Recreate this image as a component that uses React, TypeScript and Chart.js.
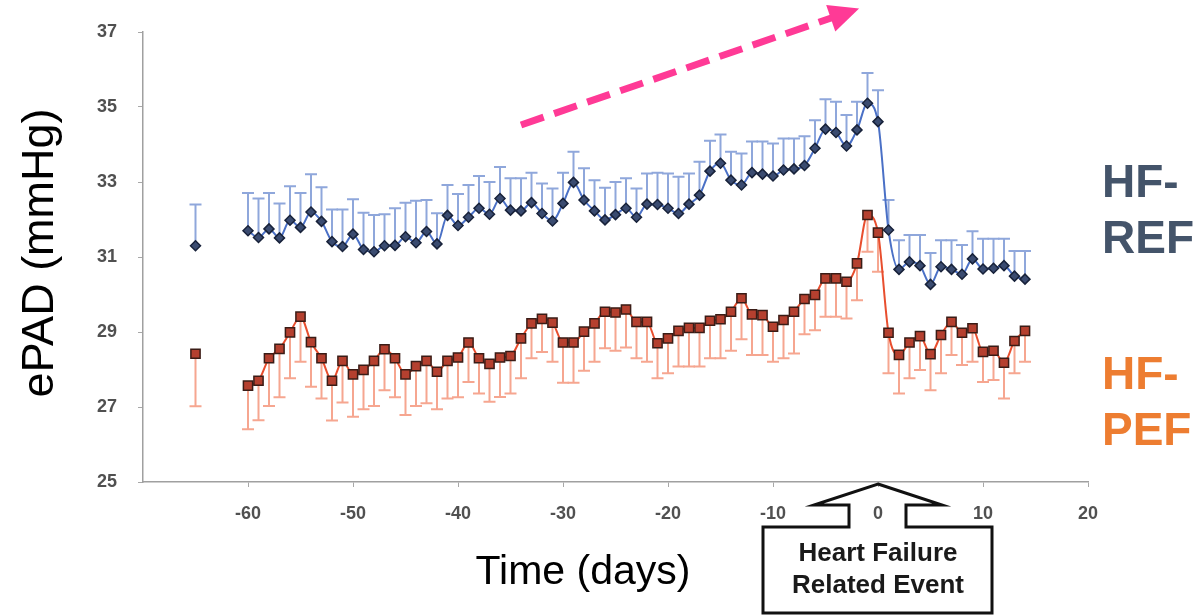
import React, { useEffect, useRef } from 'react';
import { Chart, registerables } from 'chart.js';

Chart.register(...registerables);

// ---- Data ----
const days = [
  -60, -59, -58, -57, -56, -55, -54, -53, -52, -51, -50, -49, -48, -47, -46, -45, -44, -43, -42, -41,
  -40, -39, -38, -37, -36, -35, -34, -33, -32, -31, -30, -29, -28, -27, -26, -25, -24, -23, -22, -21,
  -20, -19, -18, -17, -16, -15, -14, -13, -12, -11, -10, -9, -8, -7, -6, -5, -4, -3, -2, -1,
  0, 1, 2, 3, 4, 5, 6, 7, 8, 9, 10, 11, 12, 13, 14,
];

const refMean = [
  31.70, 31.52, 31.75, 31.51, 31.98, 31.79, 32.20, 31.95, 31.41, 31.28, 31.61, 31.20, 31.14, 31.30, 31.31, 31.54, 31.38, 31.68, 31.35, 32.11,
  31.84, 32.06, 32.30, 32.14, 32.56, 32.25, 32.23, 32.45, 32.16, 31.96, 32.43, 32.99, 32.52, 32.23, 31.99, 32.13, 32.30, 32.06, 32.41, 32.40,
  32.30, 32.16, 32.41, 32.65, 33.29, 33.50, 33.05, 32.92, 33.25, 33.21, 33.16, 33.32, 33.35, 33.44, 33.90, 34.41, 34.32, 33.96, 34.39, 35.10,
  34.61, 31.72, 30.67, 30.87, 30.77, 30.27, 30.74, 30.67, 30.54, 30.95, 30.68, 30.70, 30.77, 30.49, 30.41,
];

const refHigh = [
  32.71, 32.56, 32.71, 32.43, 32.89, 32.71, 33.21, 32.86, 32.27, 32.27, 32.54, 32.18, 32.12, 32.14, 32.30, 32.45, 32.50, 32.52, 32.17, 32.92,
  32.68, 32.92, 33.16, 33.00, 33.40, 33.10, 33.10, 33.25, 32.96, 32.83, 33.25, 33.81, 33.37, 33.05, 32.85, 33.00, 33.10, 32.83, 33.23, 33.25,
  33.23, 33.14, 33.23, 33.54, 34.10, 34.27, 33.81, 33.76, 34.08, 34.08, 34.03, 34.16, 34.16, 34.22, 34.65, 35.21, 35.14, 34.79, 35.14, 35.91,
  35.45, 32.52, 31.45, 31.59, 31.59, 31.11, 31.45, 31.45, 31.32, 31.69, 31.49, 31.49, 31.49, 31.16, 31.16,
];

const pefMean = [
  27.57, 27.70, 28.30, 28.55, 28.99, 29.41, 28.73, 28.30, 27.70, 28.23, 27.87, 27.99, 28.23, 28.54, 28.30, 27.87, 28.09, 28.23, 27.94, 28.23,
  28.32, 28.72, 28.30, 28.15, 28.32, 28.36, 28.83, 29.23, 29.35, 29.25, 28.72, 28.72, 29.01, 29.23, 29.54, 29.52, 29.60, 29.27, 29.27, 28.70,
  28.83, 29.03, 29.11, 29.11, 29.30, 29.34, 29.54, 29.90, 29.47, 29.45, 29.14, 29.32, 29.54, 29.88, 29.99, 30.43, 30.43, 30.34, 30.83, 32.12,
  31.65, 28.98, 28.39, 28.72, 28.89, 28.41, 28.92, 29.27, 28.98, 29.10, 28.47, 28.50, 28.18, 28.76, 29.03,
];

const pefLow = [
  26.41, 26.65, 27.03, 27.26, 27.77, 28.21, 27.54, 27.23, 26.64, 27.12, 26.74, 26.94, 27.03, 27.45, 27.26, 26.79, 27.03, 27.10, 26.94, 27.23,
  27.26, 27.67, 27.36, 27.14, 27.27, 27.36, 27.77, 28.30, 28.47, 28.21, 27.65, 27.65, 27.97, 28.21, 28.57, 28.50, 28.59, 28.30, 28.21, 27.77,
  27.90, 28.08, 28.08, 28.08, 28.30, 28.30, 28.50, 28.81, 28.39, 28.39, 28.21, 28.30, 28.43, 28.94, 29.05, 29.41, 29.41, 29.36, 29.85, 31.14,
  30.61, 27.90, 27.36, 27.77, 27.99, 27.45, 27.90, 28.39, 28.12, 28.21, 27.67, 27.72, 27.23, 27.90, 28.21,
];

const baselineDay = [-65];
const refBaseMean = [31.3];
const refBaseHigh = [32.4];
const pefBaseMean = [28.42];
const pefBaseLow = [27.02];

const xTickValues = [-60, -50, -40, -30, -20, -10, 0, 10, 20];
const yTickValues = [25, 27, 29, 31, 33, 35, 37];

const xTitle = 'Time (days)';
const yTitle = 'ePAD (mmHg)';
const refLabel = ['HF-', 'REF'];
const pefLabel = ['HF-', 'PEF'];
const eventLabel = ['Heart Failure', 'Related Event'];
const eventDay = 0;

// trend arrow (data coordinates)
const trendStart = { x: -34, y: 34.52 };
const trendEnd = { x: -1.8, y: 37.63 };

const toPoints = (xs: number[], ys: number[]) => xs.map((x, i) => ({ x, y: ys[i] }));

const errorBarPlugin = {
  id: 'errorBars',
  beforeDatasetsDraw(chart: any) {
    const { ctx, scales } = chart;
    const xs = scales.x;
    const ys = scales.y;
    ctx.save();
    chart.data.datasets.forEach((ds: any) => {
      if (!ds.errEnds) return;
      ctx.strokeStyle = ds.errColor;
      ctx.lineWidth = 2;
      ds.data.forEach((p: any, i: number) => {
        const px = xs.getPixelForValue(p.x);
        const py = ys.getPixelForValue(p.y);
        const pe = ys.getPixelForValue(ds.errEnds[i]);
        ctx.beginPath();
        ctx.moveTo(px, py);
        ctx.lineTo(px, pe);
        ctx.moveTo(px - 6, pe);
        ctx.lineTo(px + 6, pe);
        ctx.stroke();
      });
    });
    ctx.restore();
  },
};

const decorPlugin = {
  id: 'decor',
  afterDraw(chart: any) {
    const { ctx, scales, chartArea } = chart;
    const xs = scales.x;
    const ys = scales.y;
    ctx.save();

    // Axis titles
    ctx.fillStyle = '#000';
    ctx.textAlign = 'center';
    ctx.textBaseline = 'middle';
    ctx.font = '41px "Liberation Sans", Arial, sans-serif';
    ctx.fillText(xTitle, 583, 573);
    ctx.save();
    ctx.translate(41, 253);
    ctx.rotate(-Math.PI / 2);
    ctx.font = '45px "Liberation Sans", Arial, sans-serif';
    ctx.fillText(yTitle, 0, 0);
    ctx.restore();

    // Series labels on the right
    ctx.textAlign = 'left';
    ctx.textBaseline = 'alphabetic';
    ctx.font = 'bold 46px "Liberation Sans", Arial, sans-serif';
    ctx.fillStyle = '#44546A';
    ctx.fillText(refLabel[0], 1102, 197);
    ctx.fillText(refLabel[1], 1102, 253);
    ctx.fillStyle = '#ED7D31';
    ctx.fillText(pefLabel[0], 1102, 389);
    ctx.fillText(pefLabel[1], 1102, 445);

    // Heart failure event callout (arrow pointing at day 0)
    const cx = xs.getPixelForValue(eventDay);
    const tipY = chartArea.bottom + 2;
    const wingY = tipY + 21;
    const boxTop = tipY + 43;
    const boxBottom = 613;
    ctx.beginPath();
    ctx.moveTo(cx, tipY);
    ctx.lineTo(cx + 64, wingY);
    ctx.lineTo(cx + 28, wingY);
    ctx.lineTo(cx + 28, boxTop);
    ctx.lineTo(cx + 114, boxTop);
    ctx.lineTo(cx + 114, boxBottom);
    ctx.lineTo(cx - 115, boxBottom);
    ctx.lineTo(cx - 115, boxTop);
    ctx.lineTo(cx - 29, boxTop);
    ctx.lineTo(cx - 29, wingY);
    ctx.lineTo(cx - 64, wingY);
    ctx.closePath();
    ctx.strokeStyle = '#111';
    ctx.lineWidth = 3;
    ctx.lineJoin = 'miter';
    ctx.stroke();
    ctx.fillStyle = '#1a1a1a';
    ctx.font = 'bold 26px "Liberation Sans", Arial, sans-serif';
    ctx.textAlign = 'center';
    ctx.textBaseline = 'middle';
    ctx.fillText(eventLabel[0], cx, 554);
    ctx.fillText(eventLabel[1], cx, 586);

    // Pink dashed trend arrow
    const x0 = xs.getPixelForValue(trendStart.x);
    const y0 = ys.getPixelForValue(trendStart.y);
    const x1 = xs.getPixelForValue(trendEnd.x);
    const y1 = ys.getPixelForValue(trendEnd.y);
    const dx = x1 - x0;
    const dy = y1 - y0;
    const len = Math.hypot(dx, dy);
    const ux = dx / len;
    const uy = dy / len;
    const headLen = 30;
    const headHalf = 14;
    const bx = x1 - ux * headLen;
    const by = y1 - uy * headLen;
    ctx.strokeStyle = '#FF3A96';
    ctx.fillStyle = '#FF3A96';
    ctx.lineWidth = 7;
    ctx.lineCap = 'butt';
    ctx.setLineDash([24, 11]);
    ctx.beginPath();
    ctx.moveTo(x0, y0);
    ctx.lineTo(bx + ux * 2, by + uy * 2);
    ctx.stroke();
    ctx.setLineDash([]);
    ctx.beginPath();
    ctx.moveTo(x1, y1);
    ctx.lineTo(bx - uy * headHalf, by + ux * headHalf);
    ctx.lineTo(bx + uy * headHalf, by - ux * headHalf);
    ctx.closePath();
    ctx.fill();

    ctx.restore();
  },
};

export default function App() {
  const canvasRef = useRef<HTMLCanvasElement | null>(null);

  useEffect(() => {
    document.body.style.margin = '0';
    const canvas = canvasRef.current;
    if (!canvas) return;

    const tickFont = { family: '"Liberation Sans", Arial, sans-serif', size: 18, weight: 'bold' as const };

    const chart = new Chart(canvas, {
      type: 'scatter',
      data: {
        datasets: [
          {
            label: 'HF-REF',
            data: toPoints(days, refMean),
            showLine: true,
            borderColor: '#4A70C6',
            borderWidth: 2,
            cubicInterpolationMode: 'monotone',
            pointStyle: 'rectRot',
            pointRadius: 5,
            pointBackgroundColor: '#3A4B70',
            pointBorderColor: '#18223A',
            pointBorderWidth: 1.5,
            errEnds: refHigh,
            errColor: '#8FA7DB',
          } as any,
          {
            label: 'HF-REF baseline',
            data: toPoints(baselineDay, refBaseMean),
            showLine: false,
            pointStyle: 'rectRot',
            pointRadius: 5,
            pointBackgroundColor: '#3A4B70',
            pointBorderColor: '#18223A',
            pointBorderWidth: 1.5,
            errEnds: refBaseHigh,
            errColor: '#8FA7DB',
          } as any,
          {
            label: 'HF-PEF',
            data: toPoints(days, pefMean),
            showLine: true,
            borderColor: '#E84E2E',
            borderWidth: 2,
            cubicInterpolationMode: 'monotone',
            pointStyle: 'rect',
            pointRadius: 6.5,
            pointBackgroundColor: '#B5402F',
            pointBorderColor: '#3A1C16',
            pointBorderWidth: 1.5,
            errEnds: pefLow,
            errColor: '#F6A690',
          } as any,
          {
            label: 'HF-PEF baseline',
            data: toPoints(baselineDay, pefBaseMean),
            showLine: false,
            pointStyle: 'rect',
            pointRadius: 6.5,
            pointBackgroundColor: '#B5402F',
            pointBorderColor: '#3A1C16',
            pointBorderWidth: 1.5,
            errEnds: pefBaseLow,
            errColor: '#F6A690',
          } as any,
        ],
      },
      options: {
        responsive: false,
        animation: false,
        devicePixelRatio: 1,
        layout: { padding: { left: 0, top: 32, right: 113, bottom: 0 } },
        plugins: {
          legend: { display: false },
          tooltip: { enabled: false },
        },
        scales: {
          x: {
            type: 'linear',
            min: -70,
            max: 20,
            afterBuildTicks: (scale: any) => {
              scale.ticks = xTickValues.map((v) => ({ value: v }));
            },
            afterFit: (scale: any) => {
              scale.height = 133;
            },
            grid: { display: true, drawOnChartArea: false, drawTicks: true, tickLength: 5, color: '#a8a8a8' },
            border: { display: true, color: '#a0a0a0', width: 1.5 },
            ticks: { font: tickFont, color: '#505050', padding: 16, maxRotation: 0, autoSkip: false },
          },
          y: {
            type: 'linear',
            min: 25,
            max: 37,
            afterBuildTicks: (scale: any) => {
              scale.ticks = yTickValues.map((v) => ({ value: v }));
            },
            afterFit: (scale: any) => {
              scale.width = 143;
            },
            grid: { display: true, drawOnChartArea: false, drawTicks: true, tickLength: 5, color: '#a8a8a8' },
            border: { display: true, color: '#a0a0a0', width: 1.5 },
            ticks: { font: tickFont, color: '#505050', padding: 21 },
          },
        },
      } as any,
      plugins: [errorBarPlugin, decorPlugin],
    });

    return () => chart.destroy();
  }, []);

  return (
    <div style={{ position: 'absolute', left: 0, top: 0, width: 1201, height: 615, background: '#fff' }}>
      <canvas ref={canvasRef} width={1201} height={615} style={{ display: 'block' }} />
    </div>
  );
}
